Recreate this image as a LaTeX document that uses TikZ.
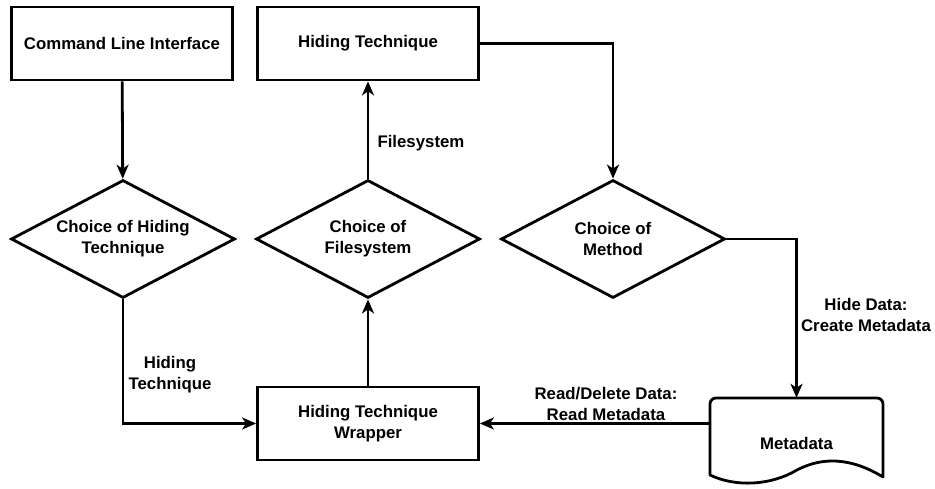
\documentclass[tikz,border=0pt]{standalone}
\usepackage{fontspec}
\setmainfont{Liberation Sans}
\usepackage{tikz}
\usetikzlibrary{shapes.geometric,arrows.meta,positioning}

\begin{document}
\begin{tikzpicture}[x=1pt, y=-1pt, >={Stealth[length=14pt,width=12pt,inset=4pt]},
    every node/.style={font=\fontsize{16.8}{21}\selectfont\bfseries, align=center},
    block/.style={rectangle, draw=black, line width=2.8pt, minimum width=221pt, minimum height=73pt, inner sep=0pt},
    choice/.style={diamond, draw=black, line width=2.8pt, aspect=1.9, minimum width=224pt, minimum height=118pt, inner sep=0pt},
    flow/.style={->, line width=2.8pt}]
        \useasboundingbox (0,0) rectangle (935,489);
        % Boxes
        \node[block] (cli) at (122,43.5) {Command Line Interface};
        \node[block] (tech) at (368,43.5) {Hiding Technique};
        \node[block] (wrap) at (368,423.5) {Hiding Technique\\Wrapper};
        % Decisions
        \node[choice] (pickTech) at (123,239) {Choice of Hiding\\Technique};
        \node[choice] (pickFs) at (368,239) {Choice of\\Filesystem};
        \node[choice] (pickMeth) at (613,239) {Choice of\\Method};
        % Document shape for the metadata
        \node[minimum width=173pt, minimum height=90pt, inner sep=0pt] (meta) at (796.5,443) {Metadata};
        \draw[line width=2.8pt, line join=round] (710,475) [rounded corners=6pt] -- (710,398) -- (883,398) -- (883,420) [sharp corners] -- (883,477)
            .. controls (850,457) and (822,457) .. (797,470) .. controls (770,486) and (735,487) .. (710,475) -- cycle;
        % Connectors
        \draw[flow] (cli) -- (pickTech);
        \draw[flow] (pickTech.south) |- (wrap.west);
        \draw[flow] (wrap) -- (pickFs);
        \draw[flow] (pickFs) -- (tech);
        \draw[flow] (tech.east) -| (pickMeth.north);
        \draw[flow] (pickMeth.east) -| (meta.north);
        \draw[flow] (meta.west |- wrap.east) -- (wrap.east);
        % Connector labels
        \node (lblTech) at (170,375) {Hiding\\Technique};
        \node[right] (lblFs) at (374,143) {Filesystem};
        \node (lblHide) at (866,314.5) {Hide Data:\\Create Metadata};
        \node (lblRead) at (606,404) {Read/Delete Data:\\Read Metadata};
    \end{tikzpicture}
\end{document}
